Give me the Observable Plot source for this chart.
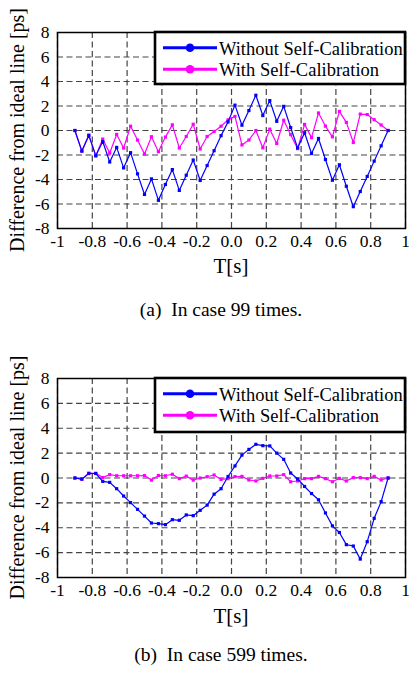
<!DOCTYPE html>
<html>
<head>
<meta charset="utf-8">
<script src="https://cdn.jsdelivr.net/npm/d3@7"></script>
<script src="https://cdn.jsdelivr.net/npm/@observablehq/plot@0.6"></script>
<style>
  html, body { margin: 0; padding: 0; background: #fff; }
  #page { position: relative; width: 409px; height: 675px; overflow: hidden; font-family: "Liberation Serif", "Times New Roman", serif; }
  #page svg, #page svg text { font-family: "Liberation Serif", "Times New Roman", serif !important; }
  .chart { position: absolute; left: 0; }
  #overlay { position: absolute; left: 0; top: 0; }
</style>
</head>
<body>
<div id="page"></div>
<script>
// ---- data ----
const T = [-0.90, -0.86, -0.82, -0.78, -0.74, -0.70, -0.66, -0.62, -0.58, -0.54,
           -0.50, -0.46, -0.42, -0.38, -0.34, -0.30, -0.26, -0.22, -0.18, -0.14,
           -0.10, -0.06, -0.02, 0.02, 0.06, 0.10, 0.14, 0.18, 0.22, 0.26,
           0.30, 0.34, 0.38, 0.42, 0.46, 0.50, 0.54, 0.58, 0.62, 0.66,
           0.70, 0.74, 0.78, 0.82, 0.86, 0.90];

// (a) 99 times
const withoutA = [0, -1.68, -0.40, -2.07, -0.90, -2.57, -1.38, -3.05, -1.81, -3.54,
                  -5.22, -3.95, -5.70, -4.41, -3.19, -4.89, -3.65, -2.41, -4.08, -2.86,
                  -1.65, -0.42, 0.70, 2.07, 0.43, 1.63, 2.88, 1.22, 2.44, 0.75,
                  1.97, 0.24, -1.42, -0.18, -1.88, -0.65, -2.37, -4.06, -2.80, -4.55,
                  -6.22, -4.98, -3.75, -2.50, -1.25, 0];
const withA = [0, -1.68, -0.38, -2.05, -0.70, -1.84, -0.32, -1.43, 0.35, -0.78,
               -1.92, -0.51, -1.73, -0.54, 0.46, -1.43, -0.49, 0.51, -1.51, -0.49,
               -0.08, 0.35, 0.87, 1.15, -1.18, -0.78, 0.00, -1.41, 0.11, -1.06,
               0.84, -0.34, -1.48, 0.50, -0.58, 1.43, 0.36, -0.52, 1.56, 0.66,
               -0.98, 1.34, 1.30, 0.88, 0.45, 0];

// (b) 599 times
const withoutB = [0, -0.09, 0.36, 0.36, -0.27, -0.35, -0.86, -1.45, -1.98, -2.52,
                  -3.06, -3.62, -3.67, -3.75, -3.35, -3.40, -2.97, -3.03, -2.60, -2.18,
                  -1.30, -0.86, 0.12, 0.97, 1.84, 2.30, 2.71, 2.60, 2.58, 2.00,
                  1.50, 0.40, -0.08, -0.68, -1.25, -1.75, -2.81, -3.85, -4.38, -5.36,
                  -5.47, -6.52, -5.12, -3.24, -1.90, 0];
const withB = [0, -0.09, 0.39, 0.38, 0.04, 0.27, 0.18, 0.18, 0.18, 0.18,
               0.20, -0.17, 0.20, 0.18, 0.30, -0.05, 0.15, -0.17, 0.00, 0.10,
               0.24, -0.12, -0.05, 0.11, 0.13, -0.16, -0.24, -0.03, 0.16, 0.16,
               0.27, -0.30, -0.24, -0.05, -0.05, 0.13, -0.05, -0.30, -0.03, -0.24,
               0.03, 0.03, -0.05, 0.13, -0.16, 0];

const xTicks = [-1, -0.8, -0.6, -0.4, -0.2, 0, 0.2, 0.4, 0.6, 0.8, 1];
const xTickLabels = ["-1", "-0.8", "-0.6", "-0.4", "-0.2", "0.0", "0.2", "0.4", "0.6", "0.8", "1"];
const yTicks = [-8, -6, -4, -2, 0, 2, 4, 6, 8];
const yTickLabels = ["-8", "-6", "-4", "-2", "0", "2", "4", "6", "8"];

const seriesNames = ["Without Self-Calibration", "With Self-Calibration"];
const seriesColors = ["#0000ff", "#ff00ff"];
const yLabel = "Difference from ideal line [ps]";
const xLabel = "T[s]";
const captions = ["(a)\u2002In case 99 times.", "(b)\u2002In case 599 times."];

const SERIF = "'Liberation Serif', 'Times New Roman', serif";

// ---- chart builder ----
const xLab = new Map(xTicks.map((d, i) => [d, xTickLabels[i]]));
const yLab = new Map(yTicks.map((d, i) => [d, yTickLabels[i]]));

function makeChart(without, withc, marginTop, height, frameH) {
  const d1 = T.map((t, i) => ({t, v: without[i]}));
  const d2 = T.map((t, i) => ({t, v: withc[i]}));
  const gridStyle = {stroke: "#444", strokeOpacity: 1, strokeWidth: 1.2, strokeDasharray: "6,3.5"};
  return Plot.plot({
    width: 409,
    height,
    marginTop,
    marginBottom: height - marginTop - frameH,
    marginLeft: 57,
    marginRight: 4,
    style: {fontFamily: SERIF, fontSize: "17.5px", background: "transparent", overflow: "visible"},
    x: {domain: [-1, 1]},
    y: {domain: [-8, 8]},
    marks: [
      Plot.gridX(xTicks, gridStyle),
      Plot.gridY(yTicks, gridStyle),
      Plot.line(d2, {x: "t", y: "v", stroke: seriesColors[1], strokeWidth: 1.2}),
      Plot.dot(d2, {x: "t", y: "v", fill: seriesColors[1], r: 1.8, symbol: "square"}),
      Plot.line(d1, {x: "t", y: "v", stroke: seriesColors[0], strokeWidth: 1.2}),
      Plot.dot(d1, {x: "t", y: "v", fill: seriesColors[0], r: 1.8, symbol: "square"}),
      Plot.frame({stroke: "black", strokeWidth: 1.5}),
      Plot.axisX(xTicks, {tickSize: 0, tickPadding: 6, tickFormat: d => xLab.get(d), label: null, fill: "black", fontFamily: SERIF, fontSize: 17.5}),
      Plot.axisY(yTicks, {tickSize: 0, tickPadding: 8, tickFormat: d => yLab.get(d), label: null, fill: "black", fontFamily: SERIF, fontSize: 17.5})
    ]
  });
}

const page = document.getElementById("page");
const c1 = makeChart(withoutA, withA, 32, 270, 196);
c1.classList.add("chart"); c1.style.top = "0px";
page.appendChild(c1);
const c2 = makeChart(withoutB, withB, 38, 279, 199);
c2.classList.add("chart"); c2.style.top = "340px";
page.appendChild(c2);

// ---- overlay: legends, axis titles, captions ----
const svg = d3.select(page).append("svg")
  .attr("id", "overlay").attr("width", 409).attr("height", 675)
  .attr("font-family", SERIF);

const panels = [
  {frameTop: 32, frameBottom: 228, titleY: 273, capY: 316, cap: captions[0], legH: 52},
  {frameTop: 378, frameBottom: 577, titleY: 623, capY: 661, cap: captions[1], legH: 54}
];

panels.forEach(p => {
  const mid = (p.frameTop + p.frameBottom) / 2;
  svg.append("text")
    .attr("transform", `translate(24,${mid}) rotate(-90)`)
    .attr("text-anchor", "middle").attr("font-size", 20).text(yLabel);
  svg.append("text").attr("x", 231).attr("y", p.titleY)
    .attr("text-anchor", "middle").attr("font-size", 21).text(xLabel);
  svg.append("text").attr("x", 221).attr("y", p.capY)
    .attr("text-anchor", "middle").attr("font-size", 19.5).text(p.cap);

  const g = svg.append("g");
  g.append("rect").attr("x", 155).attr("y", p.frameTop).attr("width", 250).attr("height", p.legH)
    .attr("fill", "white").attr("stroke", "black").attr("stroke-width", 2.6);
  const rows = [p.frameTop + 15.8, p.frameTop + 37.2];
  rows.forEach((ry, i) => {
    g.append("line").attr("x1", 163).attr("x2", 217).attr("y1", ry).attr("y2", ry)
      .attr("stroke", seriesColors[i]).attr("stroke-width", 3);
    g.append("circle").attr("cx", 190).attr("cy", ry).attr("r", 4.3).attr("fill", seriesColors[i]);
    g.append("text").attr("x", 219).attr("y", ry + 7).attr("font-size", 18.5).text(seriesNames[i]);
  });
});
</script>
</body>
</html>
